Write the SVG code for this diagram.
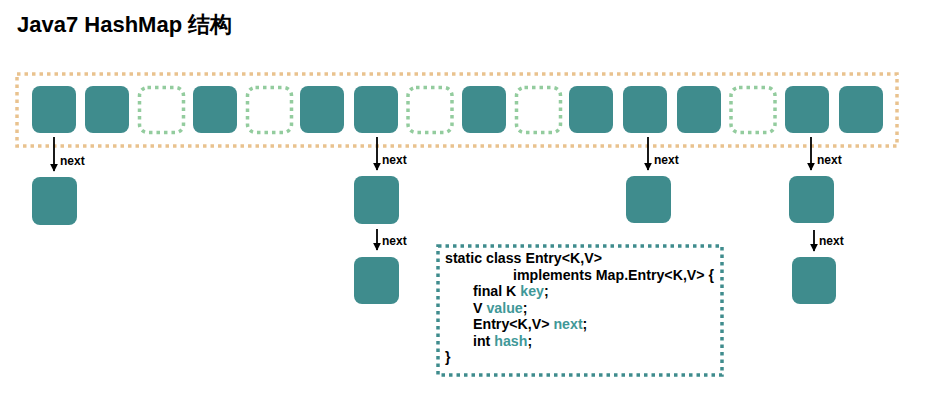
<svg xmlns="http://www.w3.org/2000/svg" width="925" height="401" viewBox="0 0 925 401">
<style>
.s{fill:#3f8c8d;}
.d{fill:none;stroke:#93cc9e;stroke-width:3.5;stroke-dasharray:3.5 4;}
.t{font-family:"Liberation Sans",Arial,sans-serif;font-weight:bold;fill:#000;}
.lbl{font-size:12px;}
.code{font-size:14.2px;}
.hl{fill:#3f9898;}
.ar{stroke:#000;stroke-width:1.8;fill:none;}
</style>
<defs>
<marker id="ah" viewBox="0 0 10 10" refX="9" refY="5" markerWidth="8" markerHeight="8" orient="auto" markerUnits="userSpaceOnUse">
<path d="M0,0 L10,5 L0,10 z" fill="#000"/>
</marker>
</defs>
<rect width="925" height="401" fill="#fff"/>
<text class="t" x="17" y="32" font-size="22" font-family="'Liberation Sans','Noto Sans CJK SC',sans-serif">Java7 HashMap 结构</text>
<g id="table">
<rect x="17" y="74" width="880" height="72" fill="none" stroke="#e9c28e" stroke-width="3.5" stroke-dasharray="3.5 4"/>
</g>
<g id="buckets">
<rect id="b0" class="s" x="32" y="86" width="44" height="47" rx="8"/>
<rect id="b1" class="s" x="85" y="86" width="44" height="47" rx="8"/>
<rect id="b2" class="d" x="139.5" y="87.5" width="44" height="45" rx="8"/>
<rect id="b3" class="s" x="193" y="86" width="44" height="47" rx="8"/>
<rect id="b4" class="d" x="247.5" y="87.5" width="44" height="45" rx="8"/>
<rect id="b5" class="s" x="300" y="86" width="44" height="47" rx="8"/>
<rect id="b6" class="s" x="354" y="86" width="44" height="47" rx="8"/>
<rect id="b7" class="d" x="408" y="87.5" width="44" height="45" rx="8"/>
<rect id="b8" class="s" x="462" y="86" width="44" height="47" rx="8"/>
<rect id="b9" class="d" x="516.5" y="87.5" width="44" height="45" rx="8"/>
<rect id="b10" class="s" x="569" y="86" width="44" height="47" rx="8"/>
<rect id="b11" class="s" x="623" y="86" width="44" height="47" rx="8"/>
<rect id="b12" class="s" x="677" y="86" width="44" height="47" rx="8"/>
<rect id="b13" class="d" x="731" y="87.5" width="44" height="45" rx="8"/>
<rect id="b14" class="s" x="785" y="86" width="44" height="47" rx="8"/>
<rect id="b15" class="s" x="839" y="86" width="44" height="47" rx="8"/>
</g>
<g id="n0a"><rect class="s" x="32" y="177" width="45" height="48" rx="8"/></g>
<g id="n6a"><rect class="s" x="354" y="176" width="45" height="48" rx="8"/></g>
<g id="n6b"><rect class="s" x="354" y="257" width="45" height="47" rx="8"/></g>
<g id="n11a"><rect class="s" x="626" y="176" width="45" height="47" rx="8"/></g>
<g id="n14a"><rect class="s" x="789" y="176" width="45" height="47" rx="8"/></g>
<g id="n14b"><rect class="s" x="792" y="257" width="44" height="47" rx="8"/></g>
<g id="connectors">
<line class="ar" x1="54" y1="137" x2="54" y2="171" marker-end="url(#ah)"/>
<text class="t lbl" x="60" y="165">next</text>
<line class="ar" x1="377" y1="137" x2="377" y2="170" marker-end="url(#ah)"/>
<text class="t lbl" x="382" y="164">next</text>
<line class="ar" x1="377" y1="229" x2="377" y2="250" marker-end="url(#ah)"/>
<text class="t lbl" x="382" y="245">next</text>
<line class="ar" x1="648" y1="137" x2="648" y2="170" marker-end="url(#ah)"/>
<text class="t lbl" x="654" y="164">next</text>
<line class="ar" x1="811" y1="137" x2="811" y2="170" marker-end="url(#ah)"/>
<text class="t lbl" x="817" y="164">next</text>
<line class="ar" x1="814" y1="230" x2="814" y2="251" marker-end="url(#ah)"/>
<text class="t lbl" x="819" y="245">next</text>
</g>
<g id="code">
<rect x="438" y="246" width="284" height="129" fill="none" stroke="#3f8c8d" stroke-width="3.5" stroke-dasharray="3.5 4"/>
<text class="t code" x="445" y="263">static class Entry&lt;K,V&gt;</text>
<text class="t code" x="513" y="280">implements Map.Entry&lt;K,V&gt; {</text>
<text class="t code" x="473" y="296">final K <tspan class="hl">key</tspan>;</text>
<text class="t code" x="473" y="313">V <tspan class="hl">value</tspan>;</text>
<text class="t code" x="473" y="329">Entry&lt;K,V&gt; <tspan class="hl">next</tspan>;</text>
<text class="t code" x="473" y="346">int <tspan class="hl">hash</tspan>;</text>
<text class="t code" x="445" y="362">}</text>
</g>
</svg>
